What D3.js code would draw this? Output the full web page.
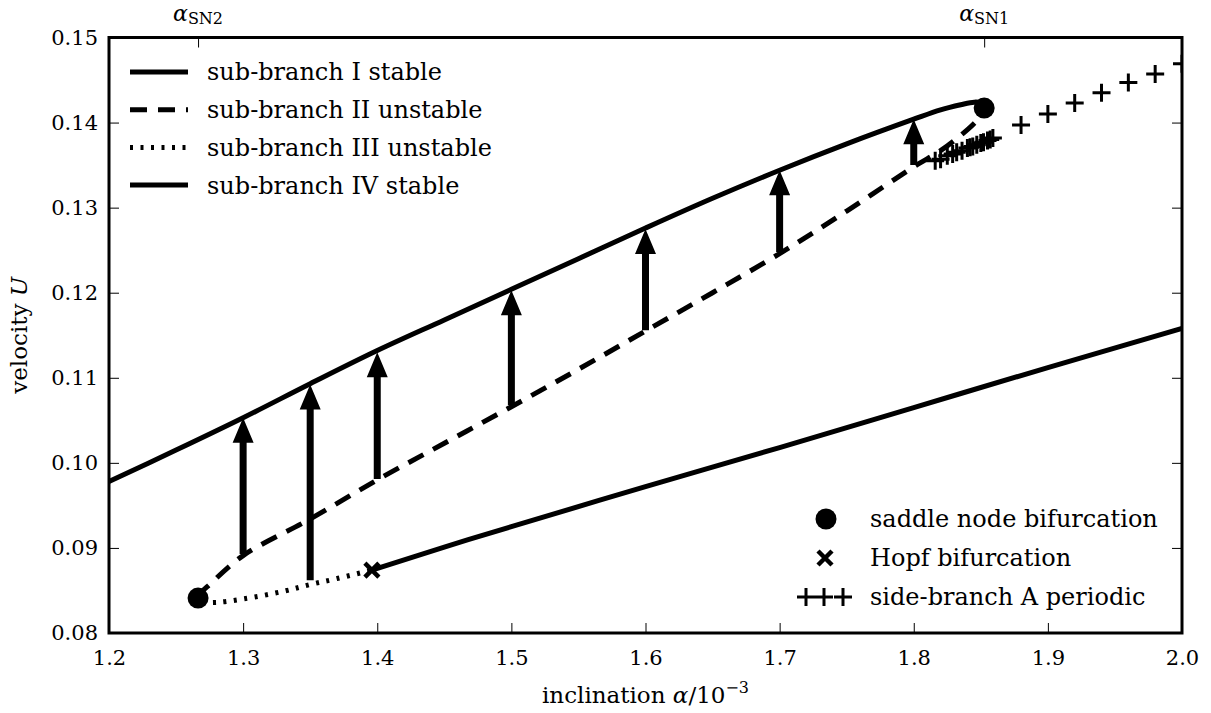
<!DOCTYPE html>
<html>
<head>
<meta charset="utf-8">
<script src="https://cdn.jsdelivr.net/npm/d3@7"></script>
<style>
  html, body { margin: 0; padding: 0; background: #fff; }
  svg { display: block; }
  text { font-family: "DejaVu Serif", serif; fill: #000; }
</style>
</head>
<body>
<svg id="chart" width="1211" height="713"></svg>
<script>
// ---------------- data ----------------
const xTicks = [1.2, 1.3, 1.4, 1.5, 1.6, 1.7, 1.8, 1.9, 2.0];
const yTicks = [0.08, 0.09, 0.10, 0.11, 0.12, 0.13, 0.14, 0.15];

// sub-branch I (stable, upper)
const branch1X = [1.2, 1.25, 1.3, 1.35, 1.4, 1.45, 1.5, 1.55, 1.6, 1.65, 1.7, 1.75, 1.8, 1.82, 1.835, 1.845, 1.8505, 1.8525];
const branch1Y = [0.0978, 0.1015, 0.1053, 0.1093, 0.1132, 0.1168, 0.1204, 0.1240, 0.1276, 0.1311, 0.1344, 0.1375, 0.1404, 0.1415, 0.1421, 0.1424, 0.1423, 0.1418];

// sub-branch II (unstable, dashed)
const branch2X = [1.2664, 1.269, 1.275, 1.3, 1.35, 1.4, 1.45, 1.5, 1.55, 1.6, 1.65, 1.7, 1.75, 1.8, 1.82, 1.835, 1.845, 1.85, 1.8525];
const branch2Y = [0.0841, 0.0848, 0.0857, 0.0891, 0.0934, 0.0980, 0.1023, 0.1066, 0.1110, 0.1155, 0.1200, 0.1246, 0.1296, 0.1348, 0.1367, 0.1385, 0.1399, 0.1408, 0.1417];

// sub-branch III (unstable, dotted)
const branch3X = [1.2664, 1.269, 1.28, 1.3, 1.33, 1.35, 1.37, 1.396];
const branch3Y = [0.0841, 0.0837, 0.0836, 0.0840, 0.0849, 0.0857, 0.0864, 0.0874];

// sub-branch IV (stable, lower)
const branch4X = [1.396, 1.45, 1.5, 1.6, 1.7, 1.8, 1.9, 2.0];
const branch4Y = [0.0874, 0.0901, 0.0925, 0.0972, 0.1018, 0.1065, 0.1112, 0.1158];

// bifurcation points
const saddleX = [1.2664, 1.8525];
const saddleY = [0.0841, 0.1417];
const hopfX = [1.396];
const hopfY = [0.0874];

// side-branch A periodic
const sideAX = [1.816, 1.820, 1.825, 1.829, 1.832, 1.836, 1.840, 1.842, 1.844, 1.847, 1.850, 1.852, 1.855, 1.857, 1.859,
                1.88, 1.90, 1.92, 1.94, 1.96, 1.98, 2.00];
const sideAY = [0.1355, 0.1357, 0.1361, 0.1363, 0.1365, 0.1367, 0.1370, 0.1371, 0.1372, 0.1374, 0.1376, 0.1377, 0.1379, 0.1380, 0.1382,
                0.1397, 0.1410, 0.1423, 0.1435, 0.1447, 0.1457, 0.1469];

// jump arrows (from unstable branch up to stable branch I)
const arrowX    = [1.3, 1.35, 1.4, 1.5, 1.6, 1.7, 1.8];
const arrowFrom = [0.0893, 0.0862, 0.0981, 0.1068, 0.1156, 0.1248, 0.1350];
const arrowTo   = [0.1053, 0.1092, 0.1130, 0.1203, 0.1275, 0.1344, 0.1404];

const legendTopLabels = ["sub-branch I stable", "sub-branch II unstable", "sub-branch III unstable", "sub-branch IV stable"];
const legendBottomLabels = ["saddle node bifurcation", "Hopf bifurcation", "side-branch A periodic"];

// ---------------- layout ----------------
const svg = d3.select("#chart");
const L = 109, R = 1182, T = 37.5, B = 633;
const x = d3.scaleLinear().domain([1.2, 2.0]).range([L, R]);
const y = d3.scaleLinear().domain([0.08, 0.15]).range([B, T]);

svg.append("defs").append("clipPath").attr("id", "clip")
  .append("rect").attr("x", L).attr("y", T).attr("width", R - L).attr("height", B - T);

const plot = svg.append("g").attr("clip-path", "url(#clip)");

const lineX = d3.line().x(d => x(d[0])).y(d => y(d[1])).curve(d3.curveCatmullRom.alpha(0.5));
const zip = (a, b) => a.map((v, i) => [v, b[i]]);

const LW = 5;
plot.append("path").attr("d", lineX(zip(branch1X, branch1Y)))
  .attr("fill", "none").attr("stroke", "#000").attr("stroke-width", LW);
plot.append("path").attr("d", lineX(zip(branch2X, branch2Y)))
  .attr("fill", "none").attr("stroke", "#000").attr("stroke-width", LW)
  .attr("stroke-dasharray", "17,11");
plot.append("path").attr("d", lineX(zip(branch3X, branch3Y)))
  .attr("fill", "none").attr("stroke", "#000").attr("stroke-width", LW)
  .attr("stroke-dasharray", "3,7.5").attr("stroke-dashoffset", -6);
plot.append("path").attr("d", lineX(zip(branch4X, branch4Y)))
  .attr("fill", "none").attr("stroke", "#000").attr("stroke-width", LW);

// arrows
const shaftW = 7, headW = 21, headL = 25;
arrowX.forEach((ax, i) => {
  const cx = x(ax), y0 = y(arrowFrom[i]), y1 = y(arrowTo[i]);
  const pts = [
    [cx - shaftW / 2, y0], [cx - shaftW / 2, y1 + headL], [cx - headW / 2, y1 + headL],
    [cx, y1], [cx + headW / 2, y1 + headL], [cx + shaftW / 2, y1 + headL], [cx + shaftW / 2, y0]
  ];
  plot.append("polygon").attr("points", pts.map(p => p.join(",")).join(" ")).attr("fill", "#000");
});

const plusPath = (cx, cy, s) => `M${cx - s},${cy}H${cx + s}M${cx},${cy - s}V${cy + s}`;
sideAX.forEach((vx, i) => {
  plot.append("path").attr("d", plusPath(x(vx), y(sideAY[i]), 9))
    .attr("stroke", "#000").attr("stroke-width", 3).attr("fill", "none");
});

saddleX.forEach((vx, i) => {
  plot.append("circle").attr("cx", x(vx)).attr("cy", y(saddleY[i])).attr("r", 10.5).attr("fill", "#000");
});
const crossPath = (cx, cy, s) => `M${cx - s},${cy - s}L${cx + s},${cy + s}M${cx - s},${cy + s}L${cx + s},${cy - s}`;
hopfX.forEach((vx, i) => {
  plot.append("path").attr("d", crossPath(x(vx), y(hopfY[i]), 7))
    .attr("stroke", "#000").attr("stroke-width", 4.5).attr("fill", "none");
});

// ---------------- axes ----------------
const axG = svg.append("g");
const tickFont = 21;
axG.append("g").attr("transform", `translate(0,${B})`)
  .call(d3.axisBottom(x).tickValues(xTicks).tickSize(-10).tickPadding(17).tickFormat(d3.format(".1f")))
  .call(g => g.select(".domain").remove())
  .call(g => g.selectAll("line").attr("stroke", "#000").attr("stroke-width", 1))
  .call(g => g.selectAll("text").attr("font-size", tickFont).attr("font-family", "DejaVu Serif"));
axG.append("g").attr("transform", `translate(${L},0)`)
  .call(d3.axisLeft(y).tickValues(yTicks).tickSize(-10).tickPadding(11).tickFormat(d3.format(".2f")))
  .call(g => g.select(".domain").remove())
  .call(g => g.selectAll("line").attr("stroke", "#000").attr("stroke-width", 1))
  .call(g => g.selectAll("text").attr("font-size", tickFont).attr("font-family", "DejaVu Serif"));
axG.append("g").attr("transform", `translate(${R},0)`)
  .call(d3.axisRight(y).tickValues(yTicks).tickSize(-10).tickFormat(""))
  .call(g => g.select(".domain").remove())
  .call(g => g.selectAll("line").attr("stroke", "#000").attr("stroke-width", 1));
axG.append("g").attr("transform", `translate(0,${T})`)
  .call(d3.axisTop(x).tickValues(saddleX).tickSize(-10).tickFormat(""))
  .call(g => g.select(".domain").remove())
  .call(g => g.selectAll("line").attr("stroke", "#000").attr("stroke-width", 1));

svg.append("rect").attr("x", L).attr("y", T).attr("width", R - L).attr("height", B - T)
  .attr("fill", "none").attr("stroke", "#000").attr("stroke-width", 3);

// top labels alpha_SN2, alpha_SN1
const topLabels = [["SN2", saddleX[0]], ["SN1", saddleX[1]]];
topLabels.forEach(([sub, vx]) => {
  const t = svg.append("text").attr("x", x(vx)).attr("y", 21).attr("text-anchor", "middle").attr("font-size", 22);
  t.append("tspan").attr("font-style", "italic").text("α");
  t.append("tspan").attr("font-size", 16).attr("dy", 3).text(sub);
});

// axis titles
const xl = svg.append("text").attr("x", (L + R) / 2).attr("y", 703).attr("text-anchor", "middle").attr("font-size", 23);
xl.append("tspan").text("inclination ");
xl.append("tspan").attr("font-style", "italic").text("α");
xl.append("tspan").text("/10");
xl.append("tspan").attr("font-size", 16).attr("dy", -10).text("−3");

const yl = svg.append("text").attr("transform", `translate(27,${(T + B) / 2}) rotate(-90)`)
  .attr("text-anchor", "middle").attr("font-size", 23);
yl.append("tspan").text("velocity ");
yl.append("tspan").attr("font-style", "italic").text("U");

// ---------------- legends ----------------
const legFont = 24;
const legTop = svg.append("g");
const topStyles = [null, "17,11", "3,7.5", null];
legendTopLabels.forEach((lab, i) => {
  const yy = 72 + i * 37.7;
  const ln = legTop.append("line").attr("x1", 130).attr("x2", 188).attr("y1", yy).attr("y2", yy)
    .attr("stroke", "#000").attr("stroke-width", LW);
  if (topStyles[i]) ln.attr("stroke-dasharray", topStyles[i]);
  legTop.append("text").attr("x", 207).attr("y", yy).attr("dy", "0.35em").attr("font-size", legFont).text(lab);
});

const legBot = svg.append("g");
const botY = [519, 558, 597];
legBot.append("circle").attr("cx", 826).attr("cy", botY[0]).attr("r", 10.5).attr("fill", "#000");
legBot.append("path").attr("d", crossPath(825, botY[1], 7)).attr("stroke", "#000").attr("stroke-width", 4.5);
[806, 824, 843].forEach(px => {
  legBot.append("path").attr("d", plusPath(px, botY[2], 9)).attr("stroke", "#000").attr("stroke-width", 3);
});
legendBottomLabels.forEach((lab, i) => {
  legBot.append("text").attr("x", 870).attr("y", botY[i]).attr("dy", "0.35em").attr("font-size", legFont).text(lab);
});
</script>
</body>
</html>
